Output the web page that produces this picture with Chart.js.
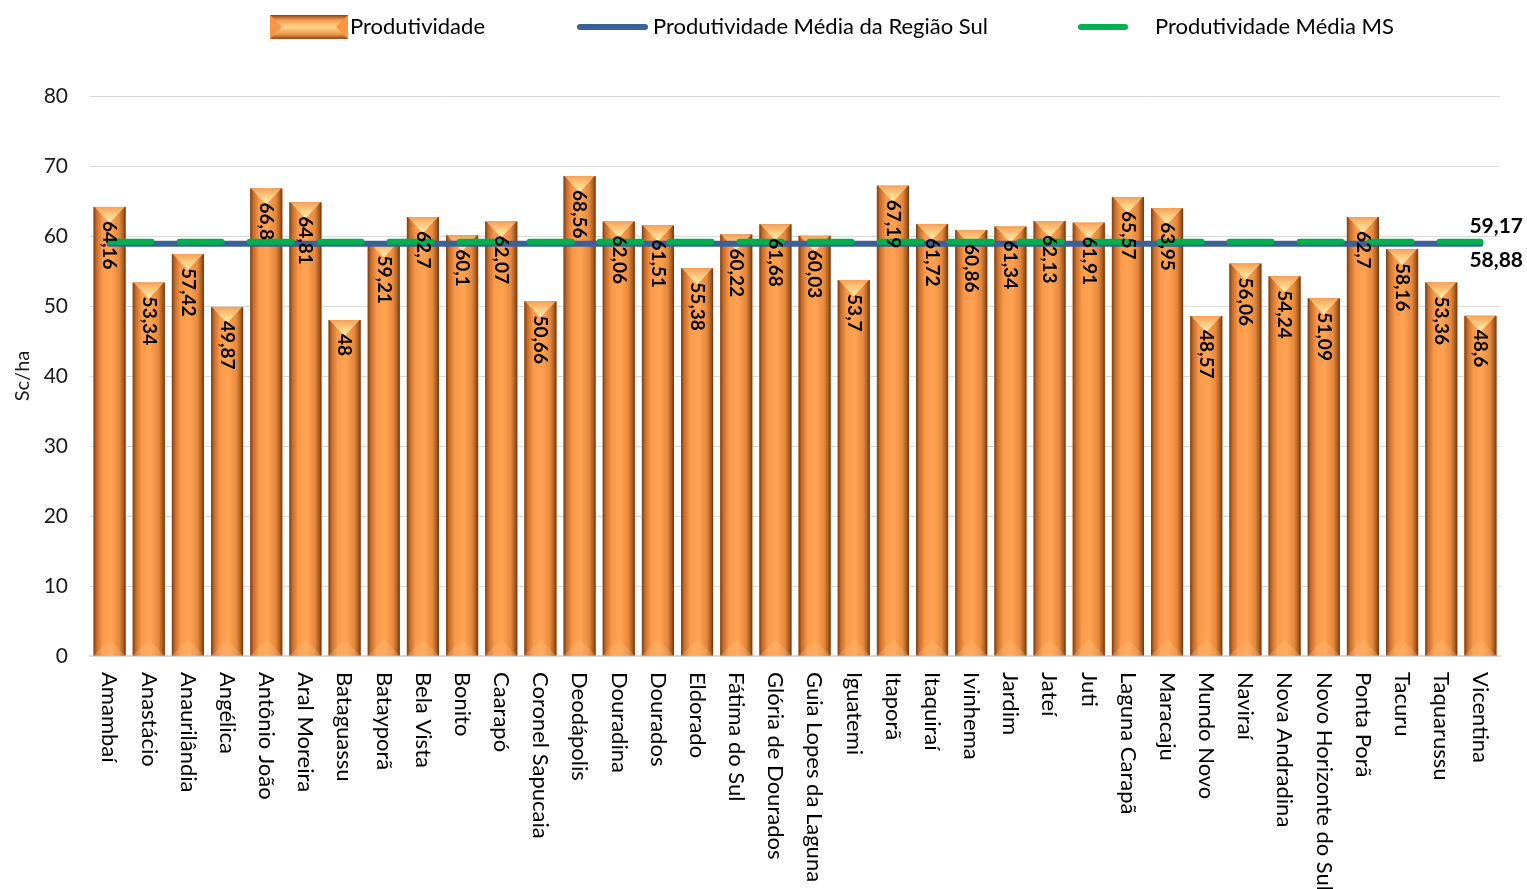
<!DOCTYPE html>
<html>
<head>
<meta charset="utf-8">
<script src="https://cdn.jsdelivr.net/npm/chart.js@4"></script>
<style>
  html, body { margin: 0; padding: 0; background: #fff; }
</style>
</head>
<body>
<canvas id="graph" width="1527" height="889"></canvas>
<script>
const municipios = [
  "Amambaí", "Anastácio", "Anaurilândia", "Angélica", "Antônio João", "Aral Moreira",
  "Bataguassu", "Batayporã", "Bela Vista", "Bonito", "Caarapó", "Coronel Sapucaia",
  "Deodápolis", "Douradina", "Dourados", "Eldorado", "Fátima do Sul", "Glória de Dourados",
  "Guia Lopes da Laguna", "Iguatemi", "Itaporã", "Itaquiraí", "Ivinhema", "Jardim",
  "Jateí", "Juti", "Laguna Carapã", "Maracaju", "Mundo Novo", "Naviraí",
  "Nova Andradina", "Novo Horizonte do Sul", "Ponta Porã", "Tacuru", "Taquarussu", "Vicentina"
];
const produtividade = [
  64.16, 53.34, 57.42, 49.87, 66.8, 64.81,
  48, 59.21, 62.7, 60.1, 62.07, 50.66,
  68.56, 62.06, 61.51, 55.38, 60.22, 61.68,
  60.03, 53.7, 67.19, 61.72, 60.86, 61.34,
  62.13, 61.91, 65.57, 63.95, 48.57, 56.06,
  54.24, 51.09, 62.7, 58.16, 53.36, 48.6
];
const mediaSul = 58.88;
const mediaMS = 59.17;
const yTicks = [0, 10, 20, 30, 40, 50, 60, 70, 80];

const linhaSul = municipios.map(() => mediaSul);
const linhaMS = municipios.map(() => mediaMS);

const FONT = "Lato, 'Open Sans', sans-serif";
const fmt = v => String(v).replace(".", ",");

function barGradient(ctx, l, r) {
  const g = ctx.createLinearGradient(l, 0, r, 0);
  g.addColorStop(0, "#7a3d12");
  g.addColorStop(0.1, "#c76d2b");
  g.addColorStop(0.28, "#f99a4b");
  g.addColorStop(0.55, "#ffa352");
  g.addColorStop(0.8, "#e6883d");
  g.addColorStop(0.93, "#a55a20");
  g.addColorStop(1, "#693410");
  return g;
}

function drawBevel(ctx, el) {
  const w = el.width, l = el.x - w / 2, r = el.x + w / 2, t = el.y, b = el.base;
  ctx.fillStyle = barGradient(ctx, l, r);
  ctx.fillRect(l, t, w, b - t);
  const bh = Math.min(w / 2, (b - t) / 2);
  // chanfro de cima
  const tg = ctx.createLinearGradient(0, t, 0, t + bh);
  tg.addColorStop(0, "#f7a058");
  tg.addColorStop(0.6, "#ffd58a");
  tg.addColorStop(1, "#fff0b0");
  ctx.beginPath();
  ctx.moveTo(l + 1, t);
  ctx.lineTo(r - 1, t);
  ctx.lineTo(el.x, t + bh);
  ctx.closePath();
  ctx.fillStyle = tg;
  ctx.fill();
  // chanfro de baixo
  ctx.beginPath();
  ctx.moveTo(l, b);
  ctx.lineTo(r, b);
  ctx.lineTo(el.x, b - bh);
  ctx.closePath();
  ctx.fillStyle = "rgba(255, 200, 140, 0.25)";
  ctx.fill();
}

function drawLegendBar(ctx, x, y, w, h) {
  const g = ctx.createLinearGradient(0, y, 0, y + h);
  g.addColorStop(0, "#8a4716");
  g.addColorStop(0.2, "#f39649");
  g.addColorStop(0.5, "#ffd68c");
  g.addColorStop(0.8, "#f39649");
  g.addColorStop(1, "#8a4716");
  ctx.fillStyle = g;
  ctx.fillRect(x, y, w, h);
  ctx.fillStyle = "#f79646";
  ctx.beginPath();
  ctx.moveTo(x, y); ctx.lineTo(x + h / 2, y + h / 2); ctx.lineTo(x, y + h); ctx.closePath();
  ctx.fill();
  ctx.beginPath();
  ctx.moveTo(x + w, y); ctx.lineTo(x + w - h / 2, y + h / 2); ctx.lineTo(x + w, y + h); ctx.closePath();
  ctx.fill();
}

const decor = {
  id: "decor",
  afterDatasetDraw(chart, args) {
    if (args.index !== 0) return;
    const ctx = chart.ctx;
    ctx.save();
    args.meta.data.forEach(el => drawBevel(ctx, el));
    ctx.restore();
  },
  afterDatasetsDraw(chart) {
    const ctx = chart.ctx;
    ctx.save();
    ctx.fillStyle = "#000";
    ctx.font = "bold 19px " + FONT;
    ctx.textAlign = "left";
    ctx.textBaseline = "middle";
    chart.getDatasetMeta(0).data.forEach((el, i) => {
      ctx.save();
      ctx.translate(el.x, el.y + 14);
      ctx.rotate(Math.PI / 2);
      ctx.fillText(fmt(produtividade[i]), 0, 0);
      ctx.restore();
    });
    // valores no fim das linhas
    ctx.font = "bold 21px " + FONT;
    const ms = chart.getDatasetMeta(2).data;
    const sul = chart.getDatasetMeta(1).data;
    const pMS = ms[ms.length - 1], pSul = sul[sul.length - 1];
    ctx.fillText(fmt(mediaMS), pMS.x - 11, pMS.y - 16);
    ctx.fillText(fmt(mediaSul), pSul.x - 11, pSul.y + 16);
    ctx.restore();
  },
  afterDraw(chart) {
    const ctx = chart.ctx;
    const xs = chart.scales.x;
    ctx.save();
    ctx.fillStyle = "#000";
    ctx.font = "22px " + FONT;
    ctx.textAlign = "left";
    ctx.textBaseline = "middle";
    municipios.forEach((m, i) => {
      ctx.save();
      ctx.translate(xs.getPixelForValue(i), 672);
      ctx.rotate(Math.PI / 2);
      ctx.fillText(m, 0, 0);
      ctx.restore();
    });
    // legenda
    const ly = 27;
    drawLegendBar(ctx, 270, 15, 78, 24);
    ctx.lineCap = "round";
    ctx.lineWidth = 6;
    ctx.strokeStyle = "#3c6098";
    ctx.beginPath(); ctx.moveTo(580, ly); ctx.lineTo(645, ly); ctx.stroke();
    ctx.strokeStyle = "#00b050";
    ctx.beginPath(); ctx.moveTo(1081, ly); ctx.lineTo(1125, ly); ctx.stroke();
    ctx.fillStyle = "#000";
    ctx.fillText("Produtividade", 350, ly);
    ctx.fillText("Produtividade Média da Região Sul", 653, ly);
    ctx.fillText("Produtividade Média MS", 1155, ly);
    ctx.restore();
  }
};

const graph = new Chart(document.getElementById("graph").getContext("2d"), {
  type: "bar",
  data: {
    labels: municipios,
    datasets: [
      {
        type: "bar",
        label: "Produtividade",
        data: produtividade,
        backgroundColor: "#f79646",
        categoryPercentage: 0.82,
        barPercentage: 1,
        order: 3,
      },
      {
        type: "line",
        label: "Produtividade Média da Região Sul",
        data: linhaSul,
        borderColor: "#3c6098",
        borderWidth: 6,
        borderCapStyle: "round",
        pointRadius: 0,
        order: 2,
      },
      {
        type: "line",
        label: "Produtividade Média MS",
        data: linhaMS,
        borderColor: "#00b050",
        borderWidth: 6,
        borderDash: [42, 28],
        borderCapStyle: "round",
        pointRadius: 0,
        order: 1,
      }
    ],
  },
  options: {
    responsive: false,
    animation: false,
    devicePixelRatio: 1,
    layout: { padding: { top: 96, right: 27, left: 0, bottom: 0 } },
    plugins: {
      legend: { display: false },
      tooltip: { enabled: false },
    },
    scales: {
      x: {
        ticks: { display: false },
        grid: { display: false, drawTicks: false },
        border: { display: true, color: "#d9d9d9", width: 2 },
        afterFit: s => { s.height = 233; },
      },
      y: {
        min: 0,
        max: 80,
        afterBuildTicks: s => { s.ticks = yTicks.map(v => ({ value: v })); },
        ticks: { color: "#1a1a1a", font: { family: FONT, size: 21 }, padding: 22 },
        grid: { color: "#d9d9d9", lineWidth: 1, drawTicks: false },
        border: { display: false },
        title: { display: true, text: "Sc/ha", color: "#1a1a1a", font: { family: FONT, size: 20 }, padding: { top: 11, bottom: 0 } },
        afterFit: s => { s.width = 90; },
      }
    }
  },
  plugins: [decor],
});
</script>
</body>
</html>
